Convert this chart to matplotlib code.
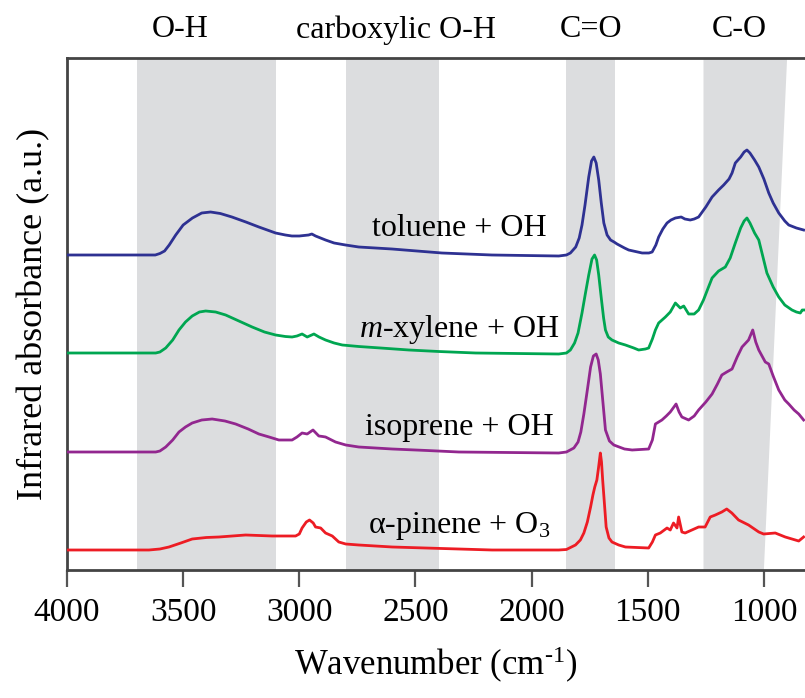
import numpy as np
import matplotlib.pyplot as plt
import matplotlib.transforms as mtransforms

plt.rcParams['font.family'] = ['Liberation Serif', 'DejaVu Serif']
plt.rcParams['mathtext.fontset'] = 'custom'
plt.rcParams['mathtext.rm'] = 'Liberation Serif'
plt.rcParams['mathtext.it'] = 'Liberation Serif:italic'

# spectra: wavenumber (cm-1), absorbance above baseline (a.u.)
toluene_wn = [4000, 3620, 3600, 3580, 3560, 3532, 3500, 3460, 3420, 3382, 3340, 3290, 3230,
              3174, 3102, 3060, 3032, 3000, 2960, 2946, 2930, 2887, 2850, 2801, 2744, 2601,
              2386, 2171, 1883, 1850, 1833, 1810, 1795, 1783, 1770, 1754, 1742, 1732, 1722,
              1711, 1700, 1689, 1675, 1660, 1645, 1632, 1600, 1582, 1524, 1495, 1481, 1465,
              1453, 1435, 1417, 1400, 1381, 1356, 1340, 1317, 1300, 1281, 1250, 1223, 1195,
              1173, 1150, 1137, 1123, 1100, 1085, 1073, 1060, 1040, 1022, 1000, 979, 960,
              936, 910, 893, 860, 829]
toluene_ab = [0.00, 0.00, 0.015, 0.04, 0.10, 0.20, 0.30, 0.37, 0.42, 0.43, 0.415, 0.38, 0.33,
              0.28, 0.22, 0.20, 0.19, 0.19, 0.20, 0.21, 0.19, 0.15, 0.12, 0.10, 0.08, 0.06,
              0.02, 0.00, -0.01, 0.00, 0.02, 0.08, 0.17, 0.30, 0.50, 0.78, 0.94, 0.98, 0.92,
              0.75, 0.52, 0.32, 0.20, 0.15, 0.13, 0.11, 0.07, 0.05, 0.02, 0.02, 0.03, 0.10,
              0.18, 0.26, 0.32, 0.35, 0.37, 0.38, 0.36, 0.35, 0.36, 0.38, 0.48, 0.58, 0.65,
              0.70, 0.76, 0.82, 0.92, 0.98, 1.03, 1.05, 1.02, 0.95, 0.88, 0.76, 0.62, 0.52,
              0.42, 0.34, 0.30, 0.27, 0.25]

xylene_wn = [4000, 3618, 3600, 3575, 3545, 3518, 3490, 3461, 3430, 3403, 3360, 3317, 3260,
             3203, 3150, 3102, 3060, 3031, 3010, 2988, 2966, 2937, 2915, 2887, 2850, 2815,
             2744, 2650, 2528, 2400, 2241, 1883, 1850, 1833, 1815, 1800, 1783, 1768, 1754,
             1740, 1729, 1720, 1711, 1700, 1690, 1682, 1670, 1654, 1625, 1596, 1560, 1539,
             1510, 1496, 1480, 1467, 1453, 1424, 1403, 1381, 1360, 1345, 1324, 1300, 1281,
             1260, 1240, 1223, 1195, 1166, 1145, 1123, 1100, 1085, 1073, 1060, 1040, 1022,
             1005, 987, 960, 936, 910, 879, 860, 843, 835, 829]
xylene_ab = [0.00, 0.00, 0.01, 0.05, 0.13, 0.23, 0.31, 0.37, 0.41, 0.42, 0.41, 0.38, 0.32,
             0.26, 0.21, 0.18, 0.165, 0.16, 0.17, 0.19, 0.16, 0.19, 0.16, 0.13, 0.10, 0.08,
             0.065, 0.05, 0.03, 0.015, 0.00, -0.01, 0.00, 0.03, 0.10, 0.20, 0.40, 0.60, 0.78,
             0.94, 0.98, 0.93, 0.78, 0.55, 0.35, 0.23, 0.16, 0.13, 0.10, 0.08, 0.05, 0.03,
             0.04, 0.05, 0.14, 0.23, 0.30, 0.36, 0.41, 0.50, 0.45, 0.47, 0.39, 0.39, 0.43,
             0.53, 0.65, 0.75, 0.82, 0.86, 0.95, 1.10, 1.25, 1.32, 1.35, 1.30, 1.20, 1.13,
             0.97, 0.80, 0.66, 0.56, 0.48, 0.43, 0.41, 0.40, 0.43, 0.43]

isoprene_wn = [4000, 3618, 3600, 3575, 3545, 3518, 3490, 3461, 3420, 3375, 3320, 3274, 3220,
               3174, 3130, 3088, 3060, 3031, 3010, 2988, 2966, 2941, 2916, 2900, 2887, 2844,
               2800, 2744, 2600, 2450, 2313, 1883, 1850, 1818, 1800, 1788, 1775, 1760, 1746,
               1734, 1722, 1713, 1704, 1693, 1682, 1665, 1646, 1600, 1567, 1496, 1480, 1467,
               1439, 1420, 1403, 1378, 1365, 1353, 1324, 1300, 1281, 1250, 1223, 1200, 1181,
               1160, 1137, 1115, 1094, 1066, 1048, 1035, 1022, 994, 979, 960, 936, 910, 893,
               870, 850, 829]
isoprene_ab = [0.00, 0.00, 0.01, 0.05, 0.12, 0.20, 0.25, 0.29, 0.32, 0.33, 0.31, 0.28, 0.23,
               0.18, 0.15, 0.12, 0.12, 0.12, 0.15, 0.19, 0.18, 0.22, 0.16, 0.155, 0.15, 0.10,
               0.07, 0.05, 0.03, 0.015, 0.00, -0.01, 0.00, 0.04, 0.10, 0.20, 0.38, 0.62, 0.85,
               0.96, 0.98, 0.92, 0.78, 0.50, 0.22, 0.11, 0.07, 0.03, 0.02, 0.03, 0.12, 0.28,
               0.32, 0.36, 0.40, 0.48, 0.40, 0.35, 0.32, 0.36, 0.42, 0.50, 0.58, 0.68, 0.77,
               0.80, 0.83, 0.95, 1.05, 1.12, 1.22, 1.10, 1.02, 0.90, 0.88, 0.76, 0.62, 0.52,
               0.48, 0.42, 0.38, 0.32]

pinene_wn = [4000, 3647, 3600, 3561, 3510, 3461, 3400, 3346, 3231, 3117, 3040, 3016, 3000,
             2988, 2970, 2956, 2940, 2930, 2908, 2887, 2858, 2830, 2800, 2744, 2600, 2457,
             2170, 1883, 1850, 1811, 1790, 1775, 1760, 1746, 1736, 1728, 1719, 1712, 1704,
             1699, 1694, 1686, 1679, 1667, 1654, 1625, 1596, 1496, 1480, 1467, 1446, 1417,
             1403, 1389, 1374, 1367, 1353, 1339, 1310, 1281, 1253, 1231, 1209, 1181, 1160,
             1138, 1109, 1066, 1022, 1001, 951, 908, 850, 829]
pinene_ab = [0.00, 0.00, 0.01, 0.03, 0.07, 0.11, 0.125, 0.13, 0.15, 0.14, 0.14, 0.14, 0.16,
             0.22, 0.28, 0.30, 0.27, 0.23, 0.22, 0.17, 0.14, 0.08, 0.06, 0.05, 0.03, 0.02,
             0.00, 0.00, 0.005, 0.05, 0.10, 0.17, 0.28, 0.43, 0.55, 0.63, 0.70, 0.82, 0.97,
             0.88, 0.70, 0.45, 0.23, 0.12, 0.08, 0.05, 0.03, 0.02, 0.08, 0.15, 0.17, 0.22,
             0.20, 0.27, 0.22, 0.33, 0.18, 0.17, 0.20, 0.23, 0.23, 0.33, 0.35, 0.38, 0.41,
             0.37, 0.30, 0.25, 0.18, 0.16, 0.17, 0.13, 0.09, 0.13]

names = ['toluene + OH', '$\\mathit{m}$-xylene + OH', 'isoprene + OH', 'α-pinene + O$_3$']
offsets = [3.15, 2.17, 1.18, 0.20]
colors = ['#2e3192', '#00a651', '#92278f', '#ed1c24']
label_y = [3.42, 2.40, 1.42, 0.44]

band_names = ['O-H', 'carboxylic O-H', 'C=O', 'C-O']
band_label_x = [3514, 2584, 1745, 1104]
bands = [(3700, 3100), (2800, 2400), (1850, 1640)]
co_band = ([1260, 1260, 900, 1000], [0, 5.12, 5.12, 0])

fig = plt.figure(figsize=(8.05, 6.98), dpi=100)
ax = fig.add_axes([67 / 805, 128 / 698, 738 / 805, 512 / 698])

band_color = '#dcdddf'
for lo, hi in bands:
    ax.axvspan(lo, hi, color=band_color, lw=0, zorder=0)
ax.fill(co_band[0], co_band[1], color=band_color, lw=0, zorder=0)

spectra = [(toluene_wn, toluene_ab), (xylene_wn, xylene_ab),
           (isoprene_wn, isoprene_ab), (pinene_wn, pinene_ab)]
for (wn, ab), off, c, name, ly in zip(spectra, offsets, colors, names, label_y):
    ax.plot(wn, np.array(ab) + off, color=c, lw=2.0, zorder=3)
    ax.text(2310, ly, name, ha='center', va='center', fontsize=23, zorder=4)

trans = mtransforms.blended_transform_factory(ax.transData, ax.transAxes)
for bx, bn in zip(band_label_x, band_names):
    ax.text(bx, 1.055, bn, transform=trans, ha='center', va='center', fontsize=23)

ax.set_xlim(4000, 823)
ax.set_ylim(0, 5.12)
ax.set_xticks([4000, 3500, 3000, 2500, 2000, 1500, 1000])
ax.set_yticks([])
ax.tick_params(axis='x', direction='out', length=12, width=1.6, color='#555555',
               labelsize=24, pad=8)
for s in ['left', 'top', 'bottom']:
    ax.spines[s].set_color('#444444')
    ax.spines[s].set_linewidth(2.0)
ax.spines['right'].set_visible(False)

ax.set_xlabel('Wavenumber (cm$^{\\text{-}1}$)', fontsize=25, labelpad=12)
ax.set_ylabel('Infrared absorbance (a.u.)', fontsize=26, labelpad=12)

fig.savefig('out.png', dpi=100)
